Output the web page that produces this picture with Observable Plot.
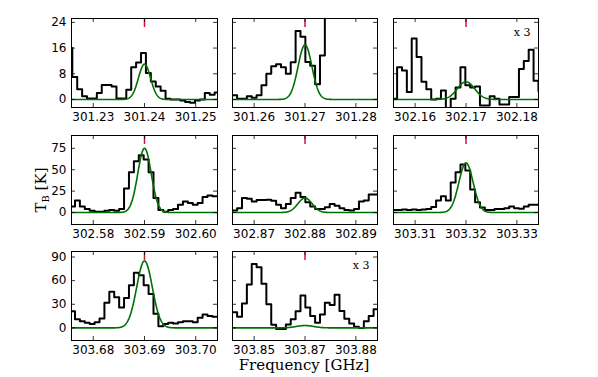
<!DOCTYPE html>
<html><head><meta charset="utf-8">
<script src="https://cdn.jsdelivr.net/npm/d3@7"></script>
<script src="https://cdn.jsdelivr.net/npm/@observablehq/plot@0.6"></script>
<style>
html,body{margin:0;padding:0;background:#fff;}
#chart{position:relative;width:598px;height:377px;overflow:hidden;}
.panel{position:absolute;}
.panel svg{overflow:visible;}
#xlab{position:absolute;left:0;width:598px;top:356px;text-align:center;font-family:"DejaVu Serif";font-size:15px;color:#000;padding-left:10px;box-sizing:border-box;}
#ylab{position:absolute;left:41px;top:190px;transform:translate(-50%,-50%) rotate(-90deg);font-family:"DejaVu Serif";font-size:15px;white-space:nowrap;color:#000;}
#ylab sub{font-size:10px;vertical-align:-3px;}
</style></head><body><div id="chart"><div id="xlab">Frequency [GHz]</div><div id="ylab">T<sub>B</sub> [K]</div></div>
<script>
// line centre frequencies (GHz) of the eight panels
const centers = [301.240, 301.270, 302.170, 302.590, 302.880, 303.320, 303.690, 303.870];
// x tick labels per panel
const xTickLabels = [
  ["301.23","301.24","301.25"],
  ["301.26","301.27","301.28"],
  ["302.16","302.17","302.18"],
  ["302.58","302.59","302.60"],
  ["302.87","302.88","302.89"],
  ["303.31","303.32","303.33"],
  ["303.68","303.69","303.70"],
  ["303.85","303.87","303.88"]
];
// y ticks and y range per row
const rowYTicks = [[0,8,16,24],[0,25,50,75],[0,30,60,90]];
const rowYDomain = [[-2.5,25.2],[-14,90],[-16,97]];
// spectral channels: first channel edge offset from centre (MHz) and channel width (MHz)
const chanStartMHz = [-15.05,-14.3,-14.5,-14.53,-14.3,-14.5,-14.53,-14.3];
const chanWidthMHz = 0.958;
// observed brightness temperature per channel (K)
const spec1 = [16,7,3.2,1,0.3,0.3,2,4.5,4.5,4,0.3,0.3,3,10,11.5,14.5,8.2,5.6,4,2.7,0.2,0,0,-0.3,-0.8,-1,-0.3,0,2,1.5,2.2];
const spec2 = [1.3,0.2,0.2,1,0.5,1.3,4.4,8,10.3,11,10,8,11.6,21.3,19.5,11.7,10.5,4.7,13.7,40,40,40,40,40,40,40,40,40,40,40,40];
const spec3 = [0.2,10,9,2.3,19,13.2,5.5,3.2,0,0.2,2.8,-3.2,0.2,3.7,10,4.4,3.7,4,-1.9,-1.9,1,0.2,-1.6,-1.6,0.8,0.8,9.5,12,15.5,5.8,2.6];
const spec4 = [7,14,7,4,2,1,1,2,3,2,4,28,47,60,67,62,47,17,3,1,3,4,9,13,11,9,11,18,20,19,19];
const spec5 = [2.4,5,17,16,13,14.6,14.6,15,13.8,9,5,10,17,23,18,12,7,4,4,6.3,10,8,5,3,2.4,4,13,14,21,21,21];
const spec6 = [3,3,3.5,3,3.5,3,3.5,4,6.5,14,19,14,35,47,56,49,27,12,6,3,3,4,4,5,7,5,4.3,7,9,9,9];
const spec7 = [21,11,8.6,6.4,5,7.3,12,32,46,39,26,38,54,70,67,54,43,18,2,5,6.4,5.6,7.3,8.6,8.6,7.3,13,17,15,14,14];
const spec8 = [20,14,31,55,81,77,56,30,4,-1.3,-1.3,4.3,11,21,41,26,15,6.4,17,32,29,42,21.5,11.6,5.6,1.3,0,8.6,15,23.6,23.6];
const spectra = [spec1,spec2,spec3,spec4,spec5,spec6,spec7,spec8];
// Gaussian fit: peak (K) and FWHM (MHz), centred on the line
const fitAmp = [11, 17, 5.5, 75, 17, 58, 85, 3];
const fitFWHM = [2.8, 3.2, 4.0, 3.1, 3.3, 3.3, 3.6, 4.0];
const scaleNote = ["", "", "x 3", "", "", "", "", "x 3"];

// layout
const colX = [71, 232, 393], colW = [146, 145, 145];
const rowY = [18, 135, 251], rowH = 89;
const halfSpan = 0.01425;
const ml = 36, mr = 6, mt = 4, mb = 24;

const chart = document.getElementById("chart");
centers.forEach((c, i) => {
  const row = Math.floor(i / 3), col = i % 3;
  const w = colW[col], h = rowH;
  const vals = spectra[i];
  const steps = vals.map((t, j) => ({f: c + (chanStartMHz[i] + j * chanWidthMHz) / 1000, t}));
  steps.push({f: c + (chanStartMHz[i] + vals.length * chanWidthMHz) / 1000, t: vals[vals.length - 1]});
  const sigma = fitFWHM[i] / 1000 / 2.3548;
  const gauss = d3.range(0, 301).map(k => {
    const f = c - halfSpan + (2 * halfSpan) * k / 300;
    return {f, t: fitAmp[i] * Math.exp(-((f - c) ** 2) / (2 * sigma * sigma))};
  });
  const xt = [c - 0.01, c, c + 0.01];
  const labMap = new Map(xt.map((v, k) => [v, xTickLabels[i][k]]));
  const yt = rowYTicks[row];
  const marks = [
    Plot.line(steps, {x: "f", y: "t", curve: "step-after", stroke: "black", strokeWidth: 2, clip: true}),
    Plot.line(gauss, {x: "f", y: "t", stroke: "#007000", strokeWidth: 1.6, clip: true}),
    Plot.ruleX([c], {stroke: "#d4143c", strokeWidth: 1.5, insetBottom: h - 9}),
    Plot.tickX(xt, {x: d => d, insetTop: h - 4, stroke: "black", strokeWidth: 0.8}),
    Plot.tickX(xt, {x: d => d, insetBottom: h - 4, stroke: "black", strokeWidth: 0.8}),
    Plot.tickY(yt, {y: d => d, insetRight: w - 4, stroke: "black", strokeWidth: 0.8}),
    Plot.tickY(yt, {y: d => d, insetLeft: w - 4, stroke: "black", strokeWidth: 0.8}),
    Plot.axisX(xt, {tickSize: 0, tickPadding: 5, tickFormat: d => labMap.get(d), label: null, fontSize: 12}),
    Plot.frame({stroke: "black", strokeWidth: 1})
  ];
  if (col === 0) marks.push(Plot.axisY(yt, {tickSize: 0, tickPadding: 5, label: null, fontSize: 12}));
  if (scaleNote[i]) marks.push(Plot.text([scaleNote[i]], {frameAnchor: "top-right", dx: -8, dy: 10, fontFamily: "DejaVu Serif", fontSize: 11}));
  const svg = Plot.plot({
    width: w + ml + mr, height: h + mt + mb,
    marginLeft: ml, marginRight: mr, marginTop: mt, marginBottom: mb,
    x: {domain: [c - halfSpan, c + halfSpan], axis: null},
    y: {domain: rowYDomain[row], axis: null},
    style: {fontFamily: "DejaVu Sans", fontSize: "12px", background: "transparent", color: "black"},
    marks
  });
  const div = document.createElement("div");
  div.className = "panel";
  div.style.left = (colX[col] - ml) + "px";
  div.style.top = (rowY[row] - mt) + "px";
  div.appendChild(svg);
  chart.appendChild(div);
});
</script></body></html>
